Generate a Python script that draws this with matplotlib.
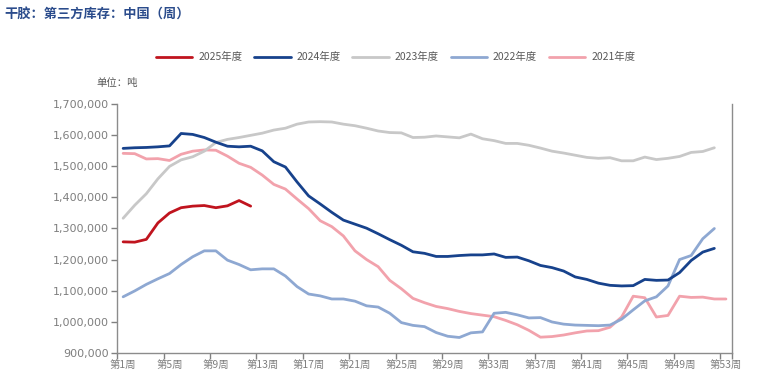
import matplotlib
matplotlib.use("Agg")
import matplotlib.pyplot as plt
import numpy as np

plt.rcParams['font.family'] = ['Noto Sans CJK SC', 'DejaVu Sans']

title = "干胶：第三方库存：中国（周）"
unit_label = "单位：吨"
series_names = ["2025年度", "2024年度", "2023年度", "2022年度", "2021年度"]
series_colors = ["#C0141E", "#17428C", "#C8C8C8", "#8EA8D2", "#F2A2AC"]

y2025 = [1257000, 1256000, 1265000, 1318000, 1350000, 1367000, 1372000, 1374000,
         1367000, 1373000, 1390000, 1372000]

y2024 = [1558000, 1560000, 1561000, 1563000, 1566000, 1606000, 1603000, 1593000,
         1578000, 1565000, 1563000, 1565000, 1550000, 1515000, 1498000, 1450000,
         1405000, 1379000, 1352000, 1327000, 1314000, 1301000, 1283000, 1264000,
         1246000, 1225000, 1220000, 1210000, 1210000, 1213000, 1215000, 1215000,
         1218000, 1207000, 1208000, 1196000, 1181000, 1174000, 1163000, 1144000,
         1136000, 1124000, 1117000, 1115000, 1116000, 1136000, 1133000, 1134000,
         1158000, 1197000, 1224000, 1236000]

y2023 = [1333000, 1375000, 1412000, 1460000, 1500000, 1521000, 1531000, 1549000,
         1577000, 1587000, 1593000, 1600000, 1607000, 1617000, 1623000, 1636000,
         1643000, 1644000, 1643000, 1636000, 1631000, 1623000, 1614000, 1609000,
         1608000, 1593000, 1594000, 1598000, 1595000, 1592000, 1604000, 1589000,
         1583000, 1574000, 1574000, 1568000, 1559000, 1549000, 1543000, 1536000,
         1529000, 1526000, 1528000, 1518000, 1518000, 1530000, 1522000, 1526000,
         1532000, 1545000, 1548000, 1560000]

y2022 = [1080000, 1099000, 1120000, 1138000, 1155000, 1184000, 1209000, 1228000,
         1228000, 1198000, 1184000, 1167000, 1170000, 1170000, 1147000, 1113000,
         1089000, 1083000, 1073000, 1073000, 1066000, 1051000, 1047000, 1027000,
         997000, 988000, 984000, 965000, 953000, 949000, 964000, 967000,
         1027000, 1030000, 1022000, 1012000, 1013000, 999000, 992000, 989000,
         988000, 987000, 989000, 1008000, 1038000, 1067000, 1080000, 1115000,
         1200000, 1213000, 1267000, 1300000]

y2021 = [1542000, 1541000, 1524000, 1525000, 1519000, 1539000, 1549000, 1553000,
         1552000, 1533000, 1510000, 1497000, 1472000, 1442000, 1427000, 1395000,
         1364000, 1325000, 1306000, 1276000, 1228000, 1200000, 1177000, 1133000,
         1106000, 1075000, 1061000, 1049000, 1042000, 1033000, 1026000, 1021000,
         1016000, 1004000, 990000, 972000, 950000, 952000, 957000, 964000,
         970000, 971000, 982000, 1015000, 1082000, 1077000, 1015000, 1020000,
         1082000, 1078000, 1079000, 1073000, 1073000]

week_label_nums = [1, 5, 9, 13, 17, 21, 25, 29, 33, 37, 41, 45, 49, 53]
week_labels = [f"第{n}周" for n in week_label_nums]
y_ticks = [900000, 1000000, 1100000, 1200000, 1300000, 1400000, 1500000, 1600000, 1700000]

fig = plt.figure(figsize=(7.74, 3.89), dpi=100)
ax = fig.add_axes([0.1516, 0.0933, 0.9454 - 0.1516, 0.7319 - 0.0933])

all_series = [y2025, y2024, y2023, y2022, y2021]
draw_order = [4, 3, 2, 1, 0]
lines = {}
for i in draw_order:
    ys = all_series[i]
    xs = np.arange(1, len(ys) + 1)
    ln, = ax.plot(xs, ys, color=series_colors[i], lw=2.0, solid_capstyle='round',
                  solid_joinstyle='round', label=series_names[i], zorder=3 + (5 - i))
    lines[i] = ln

ax.set_xlim(0.5, 53.5)
ax.set_ylim(900000, 1700000)

ax.set_yticks(y_ticks)
ax.set_yticklabels([f"{v:,}" for v in y_ticks], family=['DejaVu Sans'])

major_x = list(np.arange(0.5, 53.0, 4.0)) + [53.5]
ax.set_xticks(major_x)
ax.set_xticklabels([])
ax.set_xticks(week_label_nums, minor=True)
ax.set_xticklabels(week_labels, minor=True)
ax.tick_params(axis='x', which='major', length=4, width=1, color='#808080', direction='out')
ax.tick_params(axis='x', which='minor', length=0, pad=5, labelsize=7.5, labelcolor='#7F7F7F')
ax.tick_params(axis='y', length=4, width=1, color='#808080', direction='out',
               labelsize=8, labelcolor='#7F7F7F', pad=2)

for s in ['left', 'bottom', 'right']:
    ax.spines[s].set_color('#8C8C8C')
    ax.spines[s].set_linewidth(1.0)
ax.spines['top'].set_visible(False)

fig.text(0.006, 0.962, title, fontsize=9.5, fontweight='bold', color='#2B4C8C',
         ha='left', va='center')
fig.text(0.124, 0.787, unit_label, fontsize=7.5, color='#595959', ha='left', va='center')

handles = [lines[i] for i in range(5)]
fig.legend(handles, series_names, loc='center', bbox_to_anchor=(0.511, 0.853), ncol=5,
           frameon=False, fontsize=7.5, handlelength=3.5, handletextpad=0.55,
           columnspacing=1.15, labelcolor='#595959')

fig.savefig("out.png", dpi=100)
